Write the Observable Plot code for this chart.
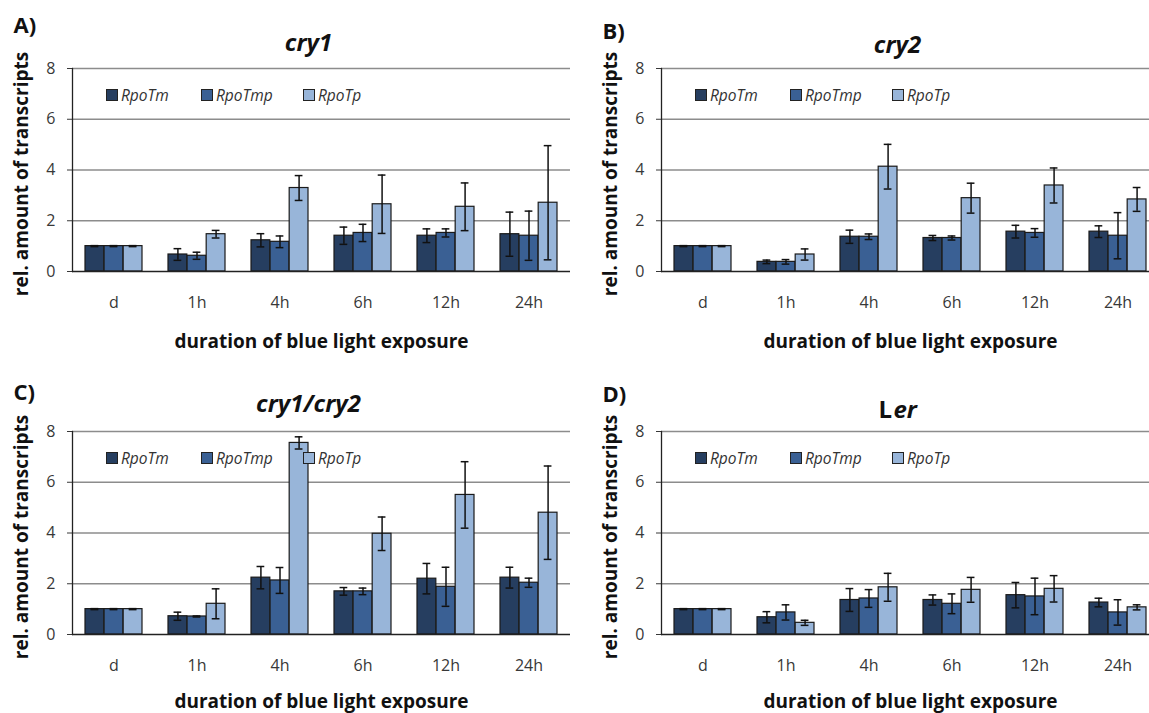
<!DOCTYPE html>
<html>
<head>
<meta charset="utf-8">
<script src="https://cdn.jsdelivr.net/npm/d3@7"></script>
<script src="https://cdn.jsdelivr.net/npm/@observablehq/plot@0.6"></script>
<style>
  html, body { margin: 0; padding: 0; background: #fff; }
  #root { position: relative; width: 1149px; height: 713px; overflow: hidden; background: #fff; font-family: "Open Sans", Lato, sans-serif; }
  .panel { position: absolute; width: 575px; height: 350px; }
  .panel svg { position: absolute; left: 0; top: 0; overflow: visible; }
  .legend { position: absolute; top: 85px; left: 0; height: 20px; font-style: italic; font-size: 15.5px; color: #333; }
  .legend .item { position: absolute; top: 0; white-space: nowrap; display: flex; align-items: center; height: 20px; }
  .legend .sw { width: 10px; height: 10px; border: 1px solid #222; margin-right: 3px; }
</style>
</head>
<body>
<div id="root"></div>
<script>
// ---- data ----
const categories = ["d", "1h", "4h", "6h", "12h", "24h"];
const seriesNames = ["RpoTm", "RpoTmp", "RpoTp"];
const seriesColors = ["#263e60", "#3a6094", "#98b5d9"];
const yTicks = [0, 2, 4, 6, 8];

// panel A: cry1
const cry1_RpoTm      = [1.00, 0.67, 1.23, 1.41, 1.41, 1.47];
const cry1_RpoTm_err  = [0.02, 0.23, 0.26, 0.34, 0.27, 0.87];
const cry1_RpoTmp     = [1.00, 0.62, 1.17, 1.52, 1.52, 1.41];
const cry1_RpoTmp_err = [0.02, 0.14, 0.23, 0.34, 0.16, 0.97];
const cry1_RpoTp      = [1.00, 1.47, 3.29, 2.65, 2.55, 2.71];
const cry1_RpoTp_err  = [0.02, 0.15, 0.49, 1.15, 0.94, 2.25];
// panel B: cry2
const cry2_RpoTm      = [1.00, 0.38, 1.37, 1.32, 1.57, 1.57];
const cry2_RpoTm_err  = [0.02, 0.07, 0.26, 0.10, 0.25, 0.23];
const cry2_RpoTmp     = [1.00, 0.38, 1.37, 1.32, 1.52, 1.41];
const cry2_RpoTmp_err = [0.02, 0.09, 0.11, 0.08, 0.17, 0.91];
const cry2_RpoTp      = [1.00, 0.67, 4.13, 2.89, 3.39, 2.84];
const cry2_RpoTp_err  = [0.02, 0.22, 0.88, 0.59, 0.69, 0.47];
// panel C: cry1/cry2
const cry12_RpoTm      = [1.00, 0.72, 2.24, 1.70, 2.20, 2.24];
const cry12_RpoTm_err  = [0.02, 0.16, 0.44, 0.15, 0.60, 0.41];
const cry12_RpoTmp     = [1.00, 0.71, 2.13, 1.70, 1.88, 2.04];
const cry12_RpoTmp_err = [0.02, 0.02, 0.51, 0.13, 0.77, 0.18];
const cry12_RpoTp      = [1.00, 1.21, 7.55, 3.97, 5.50, 4.80];
const cry12_RpoTp_err  = [0.02, 0.59, 0.24, 0.66, 1.31, 1.84];
// panel D: Ler
const ler_RpoTm      = [1.00, 0.68, 1.36, 1.36, 1.55, 1.26];
const ler_RpoTm_err  = [0.02, 0.22, 0.45, 0.20, 0.50, 0.17];
const ler_RpoTmp     = [1.00, 0.87, 1.42, 1.21, 1.50, 0.87];
const ler_RpoTmp_err = [0.02, 0.30, 0.35, 0.39, 0.72, 0.50];
const ler_RpoTp      = [1.00, 0.46, 1.86, 1.76, 1.80, 1.07];
const ler_RpoTp_err  = [0.02, 0.10, 0.55, 0.49, 0.52, 0.10];

const panels = [
  {label: "A)", title: [{t: "cry1", italic: true}], left: 0, top: 0, labelBase: 32, titleBase: 50, xTitleBase: 347,
   means: [cry1_RpoTm, cry1_RpoTmp, cry1_RpoTp], errs: [cry1_RpoTm_err, cry1_RpoTmp_err, cry1_RpoTp_err]},
  {label: "B)", title: [{t: "cry2", italic: true}], left: 589, top: 0, labelBase: 38, titleBase: 52, xTitleBase: 347,
   means: [cry2_RpoTm, cry2_RpoTmp, cry2_RpoTp], errs: [cry2_RpoTm_err, cry2_RpoTmp_err, cry2_RpoTp_err]},
  {label: "C)", title: [{t: "cry1/cry2", italic: true}], left: 0, top: 363, labelBase: 36, titleBase: 48, xTitleBase: 344,
   means: [cry12_RpoTm, cry12_RpoTmp, cry12_RpoTp], errs: [cry12_RpoTm_err, cry12_RpoTmp_err, cry12_RpoTp_err]},
  {label: "D)", title: [{t: "L", italic: false}, {t: "er", italic: true}], left: 589, top: 363, labelBase: 38, titleBase: 54, xTitleBase: 344,
   means: [ler_RpoTm, ler_RpoTmp, ler_RpoTp], errs: [ler_RpoTm_err, ler_RpoTmp_err, ler_RpoTp_err]}
];

// ---- layout styling ----
const W = 575, H = 350, mL = 72, mR = 5, mT = 68, mB = 79;
const padIn = 0.31, padOut = 0.155;
const step = (W - mL - mR) / (categories.length - padIn + 2 * padOut);
const bandW = step * (1 - padIn);
const bw = bandW / 3;
const capW = 8;
const FONT = "'Open Sans', Lato, sans-serif";

const root = document.getElementById("root");

for (const p of panels) {
  const rows = [];
  seriesNames.forEach((s, si) => {
    categories.forEach((c, ci) => {
      rows.push({cat: c, series: s, si, value: p.means[si][ci], err: p.errs[si][ci]});
    });
  });

  const marks = [
    Plot.ruleY([2, 4, 6, 8], {stroke: "#8c8c8c", strokeWidth: 1.3}),
  ];
  seriesNames.forEach((s, si) => {
    const sub = rows.filter(d => d.series === s);
    marks.push(Plot.barY(sub, {x: "cat", y: "value", fill: "series", stroke: "#1a1a1a", strokeWidth: 1.2,
      insetLeft: si * bw, insetRight: (2 - si) * bw}));
  });
  seriesNames.forEach((s, si) => {
    const sub = rows.filter(d => d.series === s);
    const off = (si - 1) * bw;
    marks.push(Plot.ruleX(sub, {x: "cat", y1: d => d.value - d.err, y2: d => d.value + d.err, dx: off, stroke: "#111", strokeWidth: 1.5}));
    marks.push(Plot.tickY(sub, {x: "cat", y: d => d.value + d.err, dx: off, stroke: "#111", strokeWidth: 1.5,
      insetLeft: (bandW - capW) / 2, insetRight: (bandW - capW) / 2}));
    marks.push(Plot.tickY(sub, {x: "cat", y: d => d.value - d.err, dx: off, stroke: "#111", strokeWidth: 1.5,
      insetLeft: (bandW - capW) / 2, insetRight: (bandW - capW) / 2}));
  });
  marks.push(Plot.ruleY([0], {stroke: "#222", strokeWidth: 1.5}));
  marks.push(Plot.frame({anchor: "left", stroke: "#222", strokeWidth: 1.3}));
  // axis titles
  marks.push(Plot.text(["rel. amount of transcripts"], {frameAnchor: "left", text: d => d, rotate: -90, dx: -51, dy: 4,
    textAnchor: "middle", lineAnchor: "middle", fontWeight: "bold", fontSize: 19, fill: "#111"}));
  marks.push(Plot.text(["duration of blue light exposure"], {frameAnchor: "bottom", text: d => d, dy: p.xTitleBase - (H - mB),
    textAnchor: "middle", lineAnchor: "bottom", fontWeight: "bold", fontSize: 19, fill: "#111"}));
  // panel letter
  marks.push(Plot.text([p.label], {frameAnchor: "top-left", text: d => d, dx: 13 - mL, dy: p.labelBase - mT,
    textAnchor: "start", lineAnchor: "bottom", fontWeight: "bold", fontSize: 22, fill: "#111"}));
  // panel title (may be mixed style)
  if (p.title.length === 1) {
    marks.push(Plot.text([p.title[0].t], {frameAnchor: "top", text: d => d, dx: -13, dy: p.titleBase - mT,
      lineAnchor: "bottom", fontWeight: "bold", fontStyle: "italic", fontSize: 24, fill: "#111"}));
  } else {
    marks.push(Plot.text([p.title[0].t], {frameAnchor: "top", text: d => d, dx: -32, dy: p.titleBase - mT,
      textAnchor: "start", lineAnchor: "bottom", fontWeight: "bold", fontSize: 24, fill: "#111"}));
    marks.push(Plot.text([p.title[1].t], {frameAnchor: "top", text: d => d, dx: -17, dy: p.titleBase - mT,
      textAnchor: "start", lineAnchor: "bottom", fontWeight: "bold", fontStyle: "italic", fontSize: 24, fill: "#111"}));
  }

  const chart = Plot.plot({
    width: W, height: H,
    marginLeft: mL, marginRight: mR, marginTop: mT, marginBottom: mB,
    style: {fontFamily: FONT, fontSize: "16px", color: "#383838", background: "transparent", overflow: "visible"},
    x: {domain: categories, paddingInner: padIn, paddingOuter: padOut, label: null, tickSize: 0, tickPadding: 25},
    y: {domain: [0, 8], ticks: yTicks, tickSize: 5, tickPadding: 12, label: null},
    color: {domain: seriesNames, range: seriesColors},
    marks
  });

  const div = document.createElement("div");
  div.className = "panel";
  div.style.left = p.left + "px";
  div.style.top = p.top + "px";
  div.appendChild(chart);

  // legend
  const leg = document.createElement("div");
  leg.className = "legend";
  const legX = [106, 201, 303];
  seriesNames.forEach((s, si) => {
    const it = document.createElement("div");
    it.className = "item";
    it.style.left = legX[si] + "px";
    const sw = document.createElement("span");
    sw.className = "sw";
    sw.style.background = seriesColors[si];
    const tx = document.createElement("span");
    tx.textContent = s;
    it.appendChild(sw); it.appendChild(tx);
    leg.appendChild(it);
  });
  div.appendChild(leg);
  root.appendChild(div);
}
</script>
</body>
</html>
